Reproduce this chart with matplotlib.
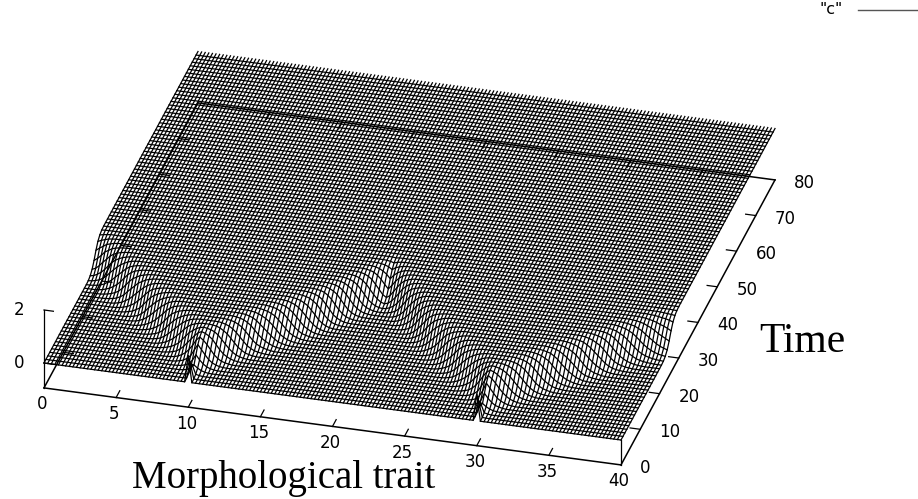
import numpy as np
import matplotlib
matplotlib.use("Agg")
from matplotlib import pyplot as plt

# time at which the front passes each trait value (one entry per x line, step 0.25)
front_a = [26.5, 26.1, 25.6, 25.0, 24.5, 23.9, 23.3, 22.8, 22.3, 21.8, 21.3, 20.7, 20.1, 19.5,
           19.0, 18.5, 18.0, 17.5, 17.0, 16.4, 15.8, 15.2, 14.7, 14.2, 13.7, 13.2, 12.7, 12.1,
           11.5, 10.9, 10.4, 9.9, 9.4, 8.9, 8.3, 7.7, 7.1, 6.5, 5.8, 4.9, 4.0]
front_b = [4.7, 5.4, 6.1, 6.8, 7.5, 8.1, 8.7, 9.3, 9.9, 10.5, 11.1, 11.7, 12.3, 12.8,
           13.3, 13.8, 14.4, 15.0, 15.6, 16.2, 16.8, 17.4, 18.0, 18.6, 19.2, 19.9, 20.6, 21.3,
           22.0, 22.7, 23.4, 24.1, 24.8, 25.5, 26.2, 26.9, 27.6, 28.3, 29.0, 29.6]
front_c = [29.0, 28.3, 27.6, 26.9, 26.2, 25.5, 24.8, 24.1, 23.5, 22.9, 22.2, 21.5, 20.8, 20.2,
           19.6, 18.9, 18.3, 17.7, 17.2, 16.7, 16.1, 15.5, 14.9, 14.3, 13.8, 13.3, 12.7, 12.1,
           11.5, 10.9, 10.4, 9.9, 9.4, 8.9, 8.3, 7.7, 7.0, 6.2, 5.2, 4.0]
front_d = [4.7, 5.4, 6.1, 6.7, 7.3, 7.9, 8.5, 9.1, 9.7, 10.3, 10.9, 11.5, 12.0, 12.6,
           13.2, 13.8, 14.3, 14.8, 15.3, 15.9, 16.5, 17.1, 17.6, 18.1, 18.6, 19.2, 19.8, 20.4,
           20.9, 21.4, 21.9, 22.4, 22.9, 23.4, 23.8, 24.2, 24.6, 24.9, 25.2, 25.5]

# height of the surface against time since the front passed
step_offset = [-4, -3, -2, -1, 0, 1, 2, 3, 4]
step_height = [0.0, 0.03, 0.1, 0.25, 0.5, 0.75, 0.9, 0.97, 1.0]

# the two starting spikes
spike_x = [10, 30]
spike_height = [1.0, 0.6, 0.4]

x_ticks = [0, 5, 10, 15, 20, 25, 30, 35, 40]
t_ticks = [0, 10, 20, 30, 40, 50, 60, 70, 80]
z_ticks = [0, 2]

x = np.arange(0, 40.25, 0.25)
t = np.arange(0, 81, 1)
front = np.array(front_a + front_b + front_c + front_d)

z = np.zeros((len(t), len(x)))
for j in range(len(x)):
    z[:, j] = np.interp(t - front[j], step_offset, step_height)
z[0, :] = 0
for s in spike_x:
    j = list(x).index(s)
    for i in range(len(spike_height)):
        z[i, j] = max(z[i, j], spike_height[i])


# gnuplot style view, everything goes through this
def project(xv, tv, zv):
    xv, tv, zv = np.asarray(xv, float), np.asarray(tv, float), np.asarray(zv, float)
    px = 44 + 14.425 * xv + 1.925 * tv
    py = 363 + 1.925 * xv - 3.5625 * tv - 26.5 * zv
    return px, py


fig = plt.figure(figsize=(9.18, 4.99), dpi=100)
ax = fig.add_axes([0, 0, 1, 1])
ax.set_xlim(0, 918)
ax.set_ylim(499, 0)
ax.axis("off")

# surface mesh, the far edge has no closing line so the x lines stick out as teeth
X, T = np.meshgrid(x, t)
PX, PY = project(X, T, z)
for i in range(len(t) - 1):
    ax.plot(PX[i, :], PY[i, :], color="black", lw=0.9)
for j in range(len(x)):
    ax.plot(PX[:, j], PY[:, j], color="black", lw=0.9)

# box
zb = -0.94
xl, xr = x_ticks[0], x_ticks[-1]
tl, tr = t_ticks[0], t_ticks[-1]
for a, b in [((xl, tl), (xr, tl)), ((xr, tl), (xr, tr)), ((xr, tr), (xl, tr)), ((xl, tr), (xl, tl))]:
    px, py = project([a[0], b[0]], [a[1], b[1]], [zb, zb])
    ax.plot(px, py, color="black", lw=1.1)

# x ticks, mirrored on the back edge
for v in x_ticks[1:-1]:
    px, py = project([v, v], [tl, tl + 1.9], [zb, zb])
    ax.plot(px, py, color="black", lw=0.9)
    px, py = project([v, v], [tr, tr - 1.9], [zb, zb])
    ax.plot(px, py, color="black", lw=0.9)
for v in x_ticks:
    px, py = project(v, tl, zb)
    ax.text(px - 2, py + 16.5, str(v), ha="center", va="center", fontsize=12, family="DejaVu Sans")

# t ticks, mirrored on the right
for v in t_ticks[1:-1]:
    px, py = project([xl, xl + 0.7], [v, v], [zb, zb])
    ax.plot(px, py, color="black", lw=0.9)
    px, py = project([xr, xr - 0.7], [v, v], [zb, zb])
    ax.plot(px, py, color="black", lw=0.9)
for v in t_ticks:
    px, py = project(xr, v, zb)
    ax.text(px + 19, py + 3, str(v), ha="left", va="center", fontsize=12, family="DejaVu Sans")

# z axis
px, py = project([xl, xl], [tl, tl], [zb, z_ticks[-1]])
ax.plot(px, py, color="black", lw=0.9)
px, py = project([xr, xr], [tl, tl], [zb, 0])
ax.plot(px, py, color="black", lw=0.9)
for v in z_ticks:
    px, py = project([xl, xl + 0.65], [tl, tl], [v, v])
    ax.plot(px, py, color="black", lw=0.9)
    ax.text(px[0] - 20, py[0], str(v), ha="right", va="center", fontsize=12, family="DejaVu Sans")

ax.text(283.5, 488, "Morphological trait", ha="center", va="baseline", fontsize=28, family="Liberation Serif")
ax.text(802.5, 352, "Time", ha="center", va="baseline", fontsize=30, family="Liberation Serif")

# key
ax.text(843, 9.5, '"c"', ha="right", va="center", fontsize=11.5, family="DejaVu Sans")
ax.plot([858, 918], [10, 10], color="#555555", lw=1.0)

fig.savefig("out.png", dpi=100)
